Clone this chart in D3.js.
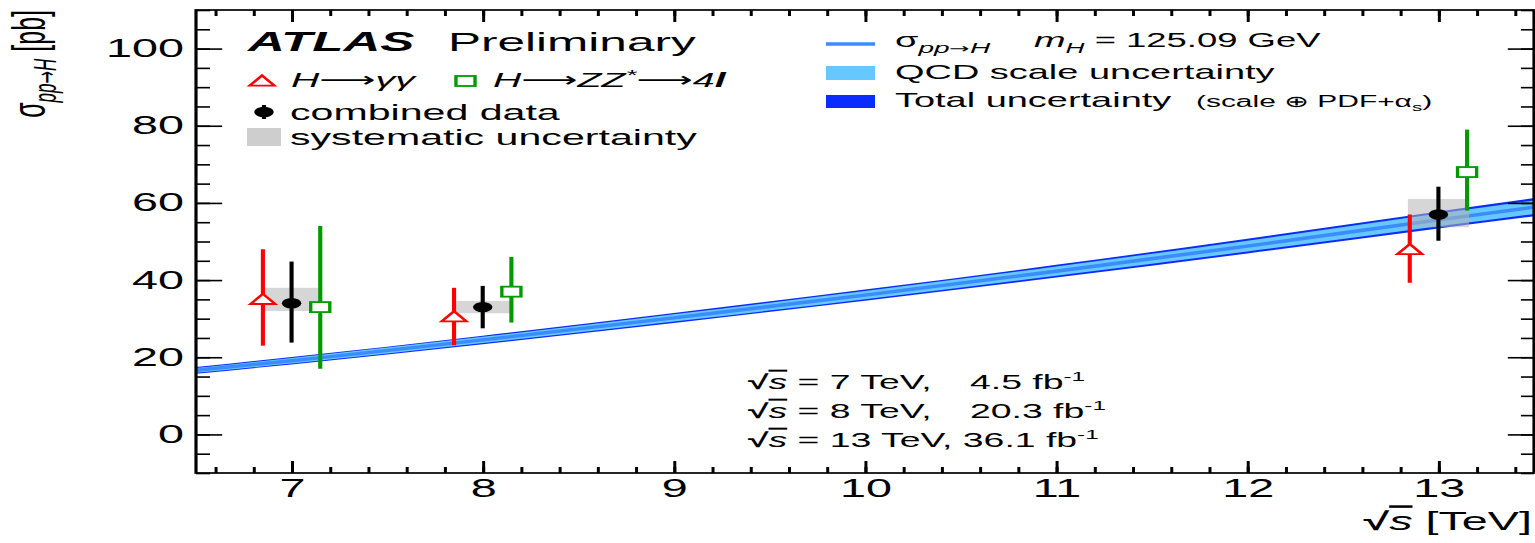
<!DOCTYPE html>
<html><head><meta charset="utf-8">
<script src="https://cdn.jsdelivr.net/npm/d3@7"></script>
<style>
body{margin:0;background:#fff;overflow:hidden;}
text{font-family:"Liberation Sans",Arial,Helvetica,sans-serif;white-space:pre;}
</style></head><body>
<svg id="c" width="1535" height="543"></svg>
<script>
// ---------------- data ----------------
const energies = [7, 8, 13];
const yyVal = [35, 30.5, 47.9], yyUp = [13, 7.5, 9.1], yyDn = [12, 7.4, 8.6];
const zzVal = [33, 37, 68],     zzUp = [21, 9, 11],    zzDn = [16, 8, 10];
const combVal = [34, 33.0, 57.0], combUp = [10.8, 5.5, 7.2], combDn = [10.2, 5.5, 6.8];
const sysUp = [4, 1.6, 4.0], sysDn = [2, 1.6, 3.3];
const theoryRootS = [6.5, 7, 8, 9, 10, 11, 12, 13, 13.5];
const theoryXS    = [16.6, 19.1, 24.5, 30.2, 36.1, 42.3, 48.8, 55.6, 58.9];
const theoryTot   = [0.85, 0.95, 1.1, 1.3, 1.45, 1.65, 1.9, 2.2, 2.35];
const theoryScale = [0.6, 0.7, 0.8, 0.95, 1.05, 1.2, 1.4, 1.65, 1.75];
const xTicks = [7, 8, 9, 10, 11, 12, 13];
const yTicks = [0, 20, 40, 60, 80, 100];
const xMinor = d3.range(6.6, 13.5, 0.2).map(v => +v.toFixed(1));
const yMinor = d3.range(-10, 111, 5);
const lumiEnergy = ["7 TeV,", "8 TeV,", "13 TeV,"];
const lumiValue = ["4.5 fb", "20.3 fb", "36.1 fb"];

// ---------------- layout ----------------
const SX = 1.87;               // horizontal stretch of the whole picture
const L = 196 / SX, R = 1534 / SX, T = 10, B = 473;
const svg = d3.select("#c");
const g = svg.append("g").attr("transform", `scale(${SX},1)`);

const x = d3.scaleLinear().domain([6.5, 13.5]).range([L, R]);
const y = d3.scaleLinear().domain([-10, 110]).range([B, T]);

g.append("clipPath").attr("id", "clip").append("rect")
  .attr("x", L).attr("y", T).attr("width", R - L).attr("height", B - T);

// ---------------- theory band ----------------
const band = g.append("g").attr("clip-path", "url(#clip)");
const idx = d3.range(theoryRootS.length);
const areaTot = d3.area().curve(d3.curveMonotoneX)
  .x(i => x(theoryRootS[i])).y0(i => y(theoryXS[i] - theoryTot[i])).y1(i => y(theoryXS[i] + theoryTot[i]));
const areaScale = d3.area().curve(d3.curveMonotoneX)
  .x(i => x(theoryRootS[i])).y0(i => y(theoryXS[i] - theoryScale[i])).y1(i => y(theoryXS[i] + theoryScale[i]));
const lineC = d3.line().curve(d3.curveMonotoneX).x(i => x(theoryRootS[i])).y(i => y(theoryXS[i]));
band.append("path").attr("d", areaTot(idx)).attr("fill", "#0a2cff");
band.append("path").attr("d", areaScale(idx)).attr("fill", "#66c8ff");
band.append("path").attr("d", lineC(idx)).attr("fill", "none").attr("stroke", "#3a8cff").attr("stroke-width", 3.5);

// ---------------- systematic boxes ----------------
g.selectAll("rect.sys").data(energies).join("rect").attr("class", "sys")
  .attr("x", d => x(d - 0.16)).attr("width", d => x(d + 0.16) - x(d - 0.16))
  .attr("y", (d, i) => y(combVal[i] + sysUp[i]))
  .attr("height", (d, i) => y(combVal[i] - sysDn[i]) - y(combVal[i] + sysUp[i]))
  .attr("fill", "#b4b4b4").attr("fill-opacity", 0.55);

// ---------------- error bars & markers ----------------
function bars(off, val, up, dn, color) {
  g.selectAll(null).data(energies).join("line")
    .attr("x1", d => x(d + off)).attr("x2", d => x(d + off))
    .attr("y1", (d, i) => y(val[i] + up[i])).attr("y2", (d, i) => y(val[i] - dn[i]))
    .attr("stroke", color).attr("stroke-width", 2.2);
}
bars(-0.15, yyVal, yyUp, yyDn, "#ff0000");
bars(0, combVal, combUp, combDn, "#000");
bars(0.15, zzVal, zzUp, zzDn, "#009a00");

const triPath = "M0,-5.5L6.6,4.6L-6.6,4.6Z";
function tri(sel) { return sel.attr("d", triPath).attr("fill", "#fff").attr("stroke", "#ff0000").attr("stroke-width", 1.8); }
function sq(sel) { return sel.attr("x", -5.1).attr("y", -5).attr("width", 10.2).attr("height", 10).attr("fill", "#fff").attr("stroke", "#009a00").attr("stroke-width", 1.8); }

g.selectAll(null).data(energies).join("path")
  .attr("transform", (d, i) => `translate(${x(d - 0.15)},${y(yyVal[i])})`).call(tri);
g.selectAll(null).data(energies).join("rect")
  .attr("transform", (d, i) => `translate(${x(d + 0.15)},${y(zzVal[i])})`).call(sq);
g.selectAll(null).data(energies).join("circle")
  .attr("cx", d => x(d)).attr("cy", (d, i) => y(combVal[i])).attr("r", 5.2).attr("fill", "#000");

// ---------------- axes ----------------
const ax = g.append("g").attr("class", "axes");
function styleAxis(a) {
  a.select(".domain").remove();
  a.selectAll("line").attr("stroke", "#000").attr("stroke-width", 1.6);
  a.selectAll("text").attr("font-size", 25).attr("fill", "#000")
    .attr("font-family", '"Liberation Sans",Arial,sans-serif');
}
ax.append("g").attr("transform", `translate(${L},0)`)
  .call(d3.axisLeft(y).tickValues(yTicks).tickSize(-14).tickPadding(6.4).tickFormat(d3.format("d"))).call(styleAxis);
ax.append("g").attr("transform", `translate(${L},0)`)
  .call(d3.axisLeft(y).tickValues(yMinor).tickSize(-7.5).tickFormat("")).call(styleAxis);
ax.append("g").attr("transform", `translate(${R},0)`)
  .call(d3.axisRight(y).tickValues(yTicks).tickSize(-14).tickFormat("")).call(styleAxis);
ax.append("g").attr("transform", `translate(${R},0)`)
  .call(d3.axisRight(y).tickValues(yMinor).tickSize(-7).tickFormat("")).call(styleAxis);
ax.append("g").attr("transform", `translate(0,${B})`)
  .call(d3.axisBottom(x).tickValues(xTicks).tickSize(-12).tickPadding(6).tickFormat(d3.format("d"))).call(styleAxis);
ax.append("g").attr("transform", `translate(0,${B})`)
  .call(d3.axisBottom(x).tickValues(xMinor).tickSize(-6).tickFormat("")).call(styleAxis);
ax.append("g").attr("transform", `translate(0,${T})`)
  .call(d3.axisTop(x).tickValues(xTicks).tickSize(-12).tickFormat("")).call(styleAxis);
ax.append("g").attr("transform", `translate(0,${T})`)
  .call(d3.axisTop(x).tickValues(xMinor).tickSize(-6).tickFormat("")).call(styleAxis);
g.append("rect").attr("x", L).attr("y", T).attr("width", R - L).attr("height", B - T)
  .attr("fill", "none").attr("stroke", "#000").attr("stroke-width", 1.7);

// ---------------- helper for text ----------------
const X = v => v / SX;   // screen x -> inner x
function txt(xs, yb, size, opts = {}) {
  const t = g.append("text").attr("x", X(xs)).attr("y", yb).attr("font-size", size).attr("fill", "#000");
  if (opts.anchor) t.attr("text-anchor", opts.anchor);
  if (opts.style) t.attr("font-style", opts.style);
  if (opts.weight) t.attr("font-weight", opts.weight);
  return t;
}
function span(t, s, o = {}) {
  const sp = t.append("tspan").text(s);
  for (const k in o) sp.attr(k, o[k]);
  return sp;
}
function rootS(t) {
  span(t, "√", { "font-weight": "bold" });
  span(t, "s", { "font-style": "italic", "text-decoration": "overline" });
}
const ARW = { "font-family": '"DejaVu Sans",sans-serif', "font-style": "normal" };

// axis titles
const yt = g.append("text").attr("transform", `translate(${X(45)},10) rotate(-90)`)
  .attr("text-anchor", "end").attr("font-size", 25);
span(yt, "σ");
span(yt, "pp", { "font-size": 17, "font-style": "italic", dy: 6 });
span(yt, "→", Object.assign({ "font-size": 15 }, ARW));
span(yt, "H", { "font-size": 17, "font-style": "italic" });
span(yt, " [pb]", { dy: -6 });

const xt = txt(1532, 530, 25, { anchor: "end" });
rootS(xt); span(xt, " [TeV]");

// top-left legend
txt(248, 51, 27.3, { weight: "bold", style: "italic" }).text("ATLAS");
txt(448, 51, 26.5).text("Preliminary");

g.append("path").attr("transform", `translate(${X(262)},81)`).call(tri);
const gt = txt(291, 87, 21, { style: "italic" });
span(gt, "H"); span(gt, "⟶", ARW); span(gt, "γγ");
g.append("rect").attr("transform", `translate(${X(465.5)},81)`).call(sq);
const zt = txt(493, 87, 21, { style: "italic" });
span(zt, "H"); span(zt, "⟶", ARW); span(zt, "ZZ");
span(zt, "*", { "font-size": 15, dy: -7 }); span(zt, "⟶", Object.assign({ dy: 7 }, ARW)); span(zt, "4");
span(zt, "l", { "font-weight": "bold" });

g.append("line").attr("x1", X(264)).attr("x2", X(264)).attr("y1", 105).attr("y2", 119)
  .attr("stroke", "#000").attr("stroke-width", 2.2);
g.append("circle").attr("cx", X(264)).attr("cy", 112).attr("r", 5.2).attr("fill", "#000");
txt(290, 120, 22).text("combined data");
g.append("rect").attr("x", X(247)).attr("width", X(281) - X(247)).attr("y", 128).attr("height", 18)
  .attr("fill", "#b4b4b4").attr("fill-opacity", 0.65);
txt(290, 145, 22).text("systematic uncertainty");

// top-right legend
g.append("line").attr("x1", X(826)).attr("x2", X(875)).attr("y1", 44).attr("y2", 44)
  .attr("stroke", "#3a8cff").attr("stroke-width", 3.5);
g.append("rect").attr("x", X(826)).attr("width", X(875) - X(826)).attr("y", 66).attr("height", 14).attr("fill", "#66c8ff");
g.append("rect").attr("x", X(826)).attr("width", X(875) - X(826)).attr("y", 95).attr("height", 13).attr("fill", "#0a2cff");
const st = txt(895, 47, 20.3);
span(st, "σ"); span(st, "pp", { "font-size": 15, "font-style": "italic", dy: 6 });
span(st, "→", Object.assign({ "font-size": 13 }, ARW));
span(st, "H", { "font-size": 15, "font-style": "italic" });
span(st, "m", { x: X(1034), dy: -6, "font-style": "italic" });
span(st, "H", { "font-size": 14, "font-style": "italic", dy: 6 });
span(st, " = 125.09 GeV", { dy: -6, "font-size": 19.5 });
txt(895, 79, 20.3).text("QCD scale uncertainty");
txt(895, 107, 20.3).text("Total uncertainty");
const ut = txt(1196, 107, 16);
span(ut, "(scale ⊕ PDF+α"); span(ut, "s", { "font-size": 11, dy: 4 }); span(ut, ")", { dy: -4 });

// energies / luminosities
const lumiY = [389, 418, 447];
const lumiX = [970, 970, null];
lumiEnergy.forEach((e, i) => {
  const t = txt(748, lumiY[i], 20);
  rootS(t); span(t, " = " + e + " ");
  const v = span(t, lumiValue[i]);
  if (lumiX[i]) v.attr("x", X(lumiX[i]));
  span(t, "-1", { "font-size": 13, dy: -8 });
});
</script></body></html>
